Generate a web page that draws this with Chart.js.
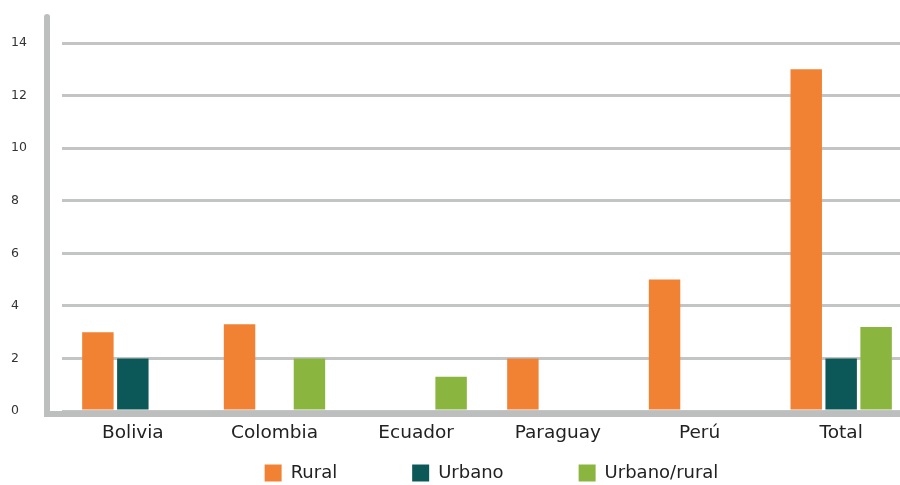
<!DOCTYPE html>
<html>
<head>
<meta charset="utf-8">
<script src="https://cdn.jsdelivr.net/npm/chart.js@4.4.1/dist/chart.umd.min.js"></script>
<style>
  html, body { margin: 0; padding: 0; background: #fff; overflow: hidden; }
  #wrap { width: 912px; height: 485px; }
</style>
</head>
<body>
<div id="wrap"><canvas id="grafico" width="912" height="485"></canvas></div>
<script>
// Datos por país y ámbito
const paises = ["Bolivia", "Colombia", "Ecuador", "Paraguay", "Perú", "Total"];
const rural = [3, 3.3, null, 2, 5, 13];
const urbano = [2, null, null, null, null, 2];
const urbanoRural = [null, 2, 1.3, null, null, 3.2];
const ticksY = [0, 2, 4, 6, 8, 10, 12, 14];

const GRIS_EJE = "#bdbfbf";
const FUENTE = "'DejaVu Sans', sans-serif";
const ALTO_LEYENDA = 24;

// Ejes gruesos dibujados aparte (sobresalen del área de la gráfica)
const ejes = {
  id: "ejes",
  beforeLayout(chart) {
    const ley = chart.legend;
    if (ley && !ley._fitFijo) {
      const fitOriginal = ley.fit;
      ley.fit = function () {
        fitOriginal.call(this);
        this.height = ALTO_LEYENDA;
      };
      ley._fitFijo = true;
    }
  },
  afterLayout(chart) {
    const ley = chart.legend;
    const pad = ley.options.labels.padding;
    // leyenda algo a la derecha y con los cuadros a la altura deseada
    ley.left += 30;
    ley.right += 30;
    ley.top = chart.chartArea.bottom + 53 - pad;
  },
  beforeDatasetsDraw(chart) {
    const { ctx, chartArea } = chart;
    ctx.save();
    ctx.strokeStyle = GRIS_EJE;
    ctx.lineWidth = 6;
    ctx.lineCap = "round";
    ctx.beginPath();
    ctx.moveTo(chartArea.left - 15, 17);
    ctx.lineTo(chartArea.left - 15, chartArea.bottom + 3);
    ctx.lineTo(900, chartArea.bottom + 3);
    ctx.stroke();
    ctx.restore();
  },
};

new Chart(document.getElementById("grafico"), {
  type: "bar",
  data: {
    labels: paises,
    datasets: [
      { label: "Rural", data: rural, backgroundColor: "#f28233" },
      { label: "Urbano", data: urbano, backgroundColor: "#0c5858" },
      { label: "Urbano/rural", data: urbanoRural, backgroundColor: "#8ab53e" },
    ],
  },
  options: {
    responsive: false,
    animation: false,
    layout: { padding: { top: 43, left: 11, right: 0, bottom: 0 } },
    datasets: { bar: { barPercentage: 0.9, categoryPercentage: 0.74 } },
    scales: {
      x: {
        grid: { display: false, drawTicks: false },
        border: { display: false },
        ticks: { color: "#222", font: { family: FUENTE, size: 18.5 }, padding: 11 },
        afterFit: (s) => { s.height = 50; },
      },
      y: {
        min: 0,
        max: 14,
        afterBuildTicks: (s) => { s.ticks = ticksY.map((v) => ({ value: v })); },
        grid: { color: "#c3c5c5", lineWidth: 3, drawTicks: false },
        border: { display: false },
        ticks: { color: "#333", font: { family: FUENTE, size: 12.5 }, crossAlign: "far", padding: 0 },
        afterFit: (s) => { s.width = 51; },
      },
    },
    plugins: {
      legend: {
        position: "bottom",
        labels: {
          boxWidth: 17,
          boxHeight: 17,
          padding: 75,
          color: "#222",
          font: { family: FUENTE, size: 18 },
        },
      },
      tooltip: { enabled: false },
    },
  },
  plugins: [ejes],
});
</script>
</body>
</html>
